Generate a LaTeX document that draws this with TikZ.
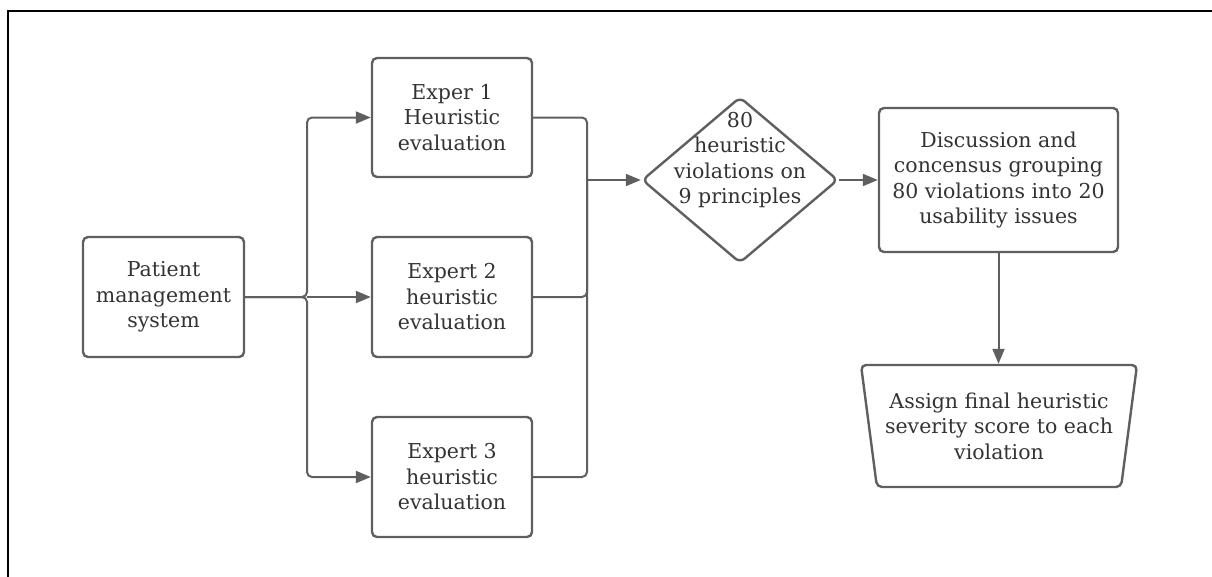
\documentclass[tikz,border=0pt]{standalone}
\usepackage{fontspec}
\setmainfont{DejaVu Serif}
\usetikzlibrary{shapes.geometric,arrows.meta}
\definecolor{edge}{RGB}{95,95,95}
\definecolor{ink}{RGB}{51,51,51}
\begin{document}
\begin{tikzpicture}[x=1pt,y=-1pt,
  every node/.style={font=\fontsize{20.5pt}{25.5pt}\selectfont, text=ink, align=center},
  box/.style={draw=edge, line width=2.4pt, rounded corners=5pt, inner sep=0pt},
  conn/.style={draw=edge, line width=2pt, rounded corners=5pt},
  arr/.style={conn, -{Triangle[length=15pt,width=12pt]}}
  ]
\useasboundingbox (0,0) rectangle (1212,576);
\draw[black, line width=2pt] (8,580) -- (8,11) -- (1216,11);

\node[box, minimum width=161pt, minimum height=120pt] (pms) at (163.5,297) {Patient\\management\\system};
\node[box, minimum width=160pt, minimum height=119pt] (e1) at (452,117.5) {Exper 1\\Heuristic\\evaluation};
\node[box, minimum width=160pt, minimum height=120pt] (e2) at (452,297) {Expert 2\\heuristic\\evaluation};
\node[box, minimum width=160pt, minimum height=120pt] (e3) at (452,477) {Expert 3\\heuristic\\evaluation};
\node[box, diamond, minimum width=196pt, minimum height=166pt, rounded corners=6pt] (dia) at (740,180) {};
\node[inner sep=0pt] (diatext) at (740,160) {80\\heuristic\\violations on\\9 principles};
\node[box, minimum width=239pt, minimum height=144pt] (disc) at (998.5,180) {Discussion and\\concensus grouping\\80 violations into 20\\usability issues};
\node[box, trapezium, shape border rotate=180, trapezium stretches body, trapezium angle=76.6,
  minimum width=276pt, minimum height=122pt] (asg) at (999,426) {Assign final heuristic\\severity score to each\\violation};

\coordinate (split) at (307,297);
\coordinate (merge) at (587,180);

\draw[arr] (pms.east) -- (split) |- (e1.west);
\draw[arr] (pms.east) -- (split) |- (e3.west);
\draw[arr] (split) -- (e2.west);

\draw[conn] (e1.east) -| (merge);
\draw[conn] (e2.east) -| (merge);
\draw[conn] (e3.east) -| (merge);
\draw[arr] (merge) -- (dia.west);

\draw[arr] (dia.east) -- (disc.west);
\draw[arr] (disc.south) -- (disc.south |- asg.north);
\end{tikzpicture}
\end{document}
